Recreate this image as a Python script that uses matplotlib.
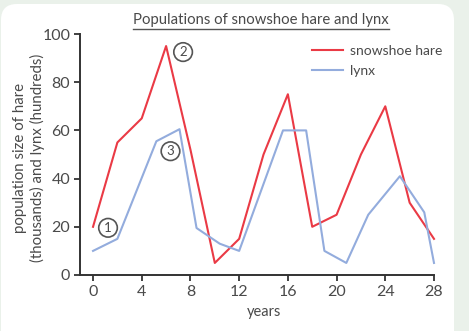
import matplotlib
matplotlib.use('Agg')
import matplotlib.pyplot as plt
from matplotlib.patches import FancyBboxPatch
from matplotlib.lines import Line2D
from matplotlib.transforms import IdentityTransform

# ---- data ----
hare_years = [0, 2, 4, 6, 8, 10, 12, 14, 16, 18, 20, 22, 24, 26, 28]
hare = [20, 55, 65, 95, 52, 5, 15, 50, 75, 20, 25, 50, 70, 30, 15]
lynx_years = [0, 2, 5.2, 7.1, 8.5, 10.4, 12, 15.6, 17.5, 19, 20.8, 22.6, 25.2, 27.2, 28]
lynx = [10, 15, 55.5, 60.5, 19.5, 13, 10, 60, 60, 10, 5, 25, 41, 26, 5]
x_ticks = [0, 4, 8, 12, 16, 20, 24, 28]
y_ticks = [0, 20, 40, 60, 80, 100]
series_names = ["snowshoe hare", "lynx"]
title = "Populations of snowshoe hare and lynx"
x_label = "years"
y_label = "population size of hare\n(thousands) and lynx (hundreds)"
# circled markers: (label, series, point index, offset in pixels)
markers = [("1", "hare", 0, (15, -1)),
           ("2", "hare", 3, (17, -6)),
           ("3", "lynx", 3, (-9, -22))]

RED = "#ea3a45"
BLUE = "#93acdd"
DARK = "#333333"
TXT = "#4a4a4a"
FONT = "Lato"

W, H = 469, 331
fig = plt.figure(figsize=(W / 100, H / 100), dpi=100, facecolor="#eaf1ea")

panel = FancyBboxPatch((1, -20), 453, H - 4 + 20,
                       boxstyle="round,pad=0,rounding_size=16",
                       transform=IdentityTransform(), fc="white", ec="none",
                       zorder=-5)
fig.patches.append(panel)

ax = fig.add_axes([80 / W, 56 / H, 354 / W, 241 / H])
ax.set_facecolor("none")

ax.plot(hare_years, hare, color=RED, lw=1.5, label=series_names[0], clip_on=False)
ax.plot(lynx_years, lynx, color=BLUE, lw=1.5, label=series_names[1], clip_on=False)

ax.set_xlim(-1.07, 28)
ax.set_ylim(0, 100)
ax.set_xticks(x_ticks)
ax.set_yticks(y_ticks)
ax.set_xticklabels([str(v) for v in x_ticks], fontfamily=FONT)
ax.set_yticklabels([str(v) for v in y_ticks], fontfamily=FONT)
for s in ["top", "right"]:
    ax.spines[s].set_visible(False)
for s in ["left", "bottom"]:
    ax.spines[s].set_color(DARK)
    ax.spines[s].set_linewidth(1.4)
ax.tick_params(direction="out", length=4, width=1.3, color=DARK,
               labelcolor=TXT, labelsize=11.5)
ax.tick_params(axis="x", pad=3)
ax.tick_params(axis="y", pad=3)

ax.set_xlabel(x_label, fontfamily=FONT, fontsize=10.5, color=TXT)
ax.xaxis.set_label_coords(0.52, -0.125)

fig.text(29 / W, 1 - 158 / H, y_label, rotation=90, ha="center", va="center",
         multialignment="center", fontfamily=FONT, fontsize=10.8, color=TXT,
         linespacing=1.25)

leg = ax.legend(loc="upper left", bbox_to_anchor=((312 - 80) / 354, (H - 45 - 56) / 241),
                frameon=False, borderpad=0, borderaxespad=0, handlelength=2.2,
                handletextpad=0.5, labelspacing=0.55,
                prop={"family": FONT, "size": 10})
for t in leg.get_texts():
    t.set_color(TXT)

data = {"hare": (hare_years, hare), "lynx": (lynx_years, lynx)}
for lab, ser, idx, off in markers:
    xs, ys = data[ser]
    ax.annotate(lab, xy=(xs[idx], ys[idx]), xytext=off, textcoords="offset pixels",
                ha="center", va="center", fontsize=9.5, fontfamily=FONT, color=TXT,
                bbox=dict(boxstyle="circle,pad=0.25", fc="none", ec="#555555", lw=1.2))

t = fig.text(261 / W, 1 - 24 / H, title, ha="center", va="baseline",
             fontfamily=FONT, fontsize=10.7, color=TXT)
fig.canvas.draw()
bb = t.get_window_extent()
fig.add_artist(Line2D([bb.x0, bb.x1], [H - 28.5, H - 28.5], transform=IdentityTransform(),
                      color="#555555", lw=1.0))

fig.savefig("out.png", dpi=100, facecolor=fig.get_facecolor())
